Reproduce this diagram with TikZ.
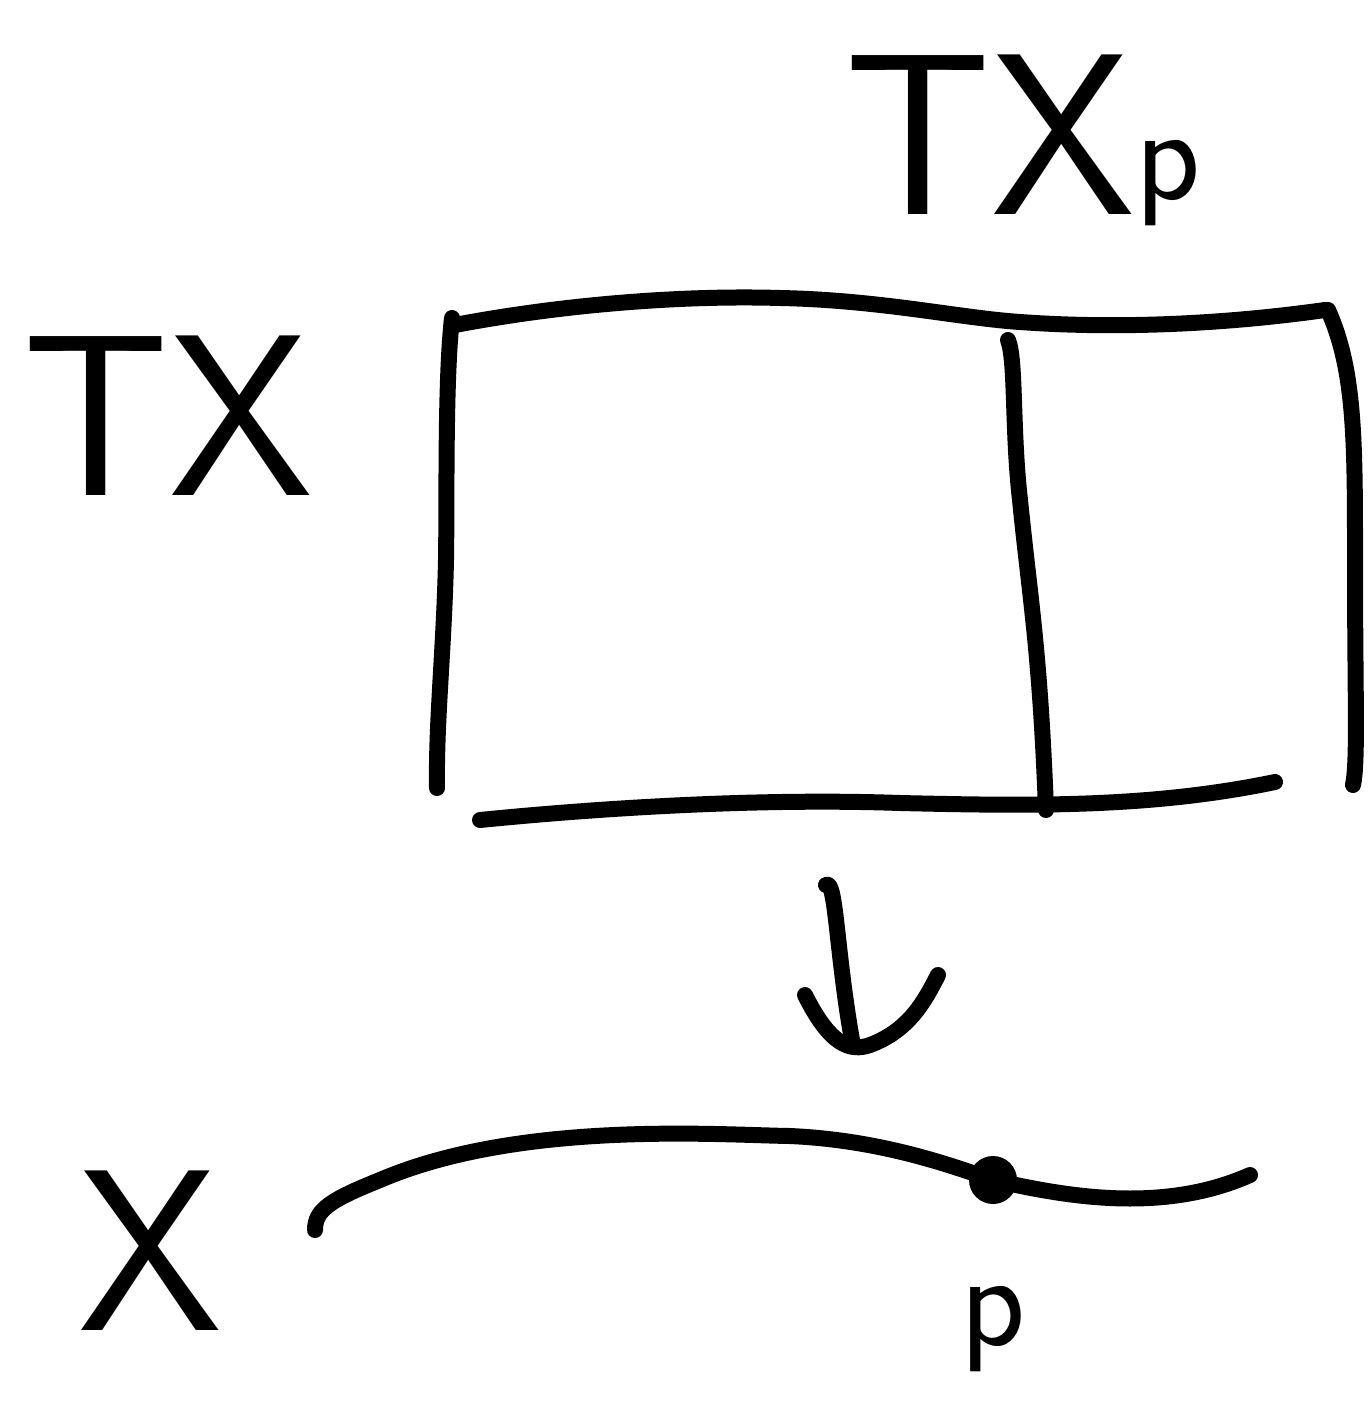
\documentclass[tikz,border=0pt]{standalone}
\usepackage{fontspec}
\begin{document}
\begin{tikzpicture}[x=1pt,y=-1pt,
  ink/.style={line width=16pt,line cap=round,line join=round,draw=black},
  lbl/.style={font=\sffamily\fontsize{230}{230}\selectfont,inner sep=0pt,anchor=base},
  sub/.style={font=\sffamily\fontsize{135}{135}\selectfont,inner sep=0pt,anchor=base west}]
\useasboundingbox (0,0) rectangle (1369,1404);
% labels
\node[lbl] (TX) at (168,495) {TX};
\node[lbl] (TXp) at (990,215) {TX};
\node[sub] (TXpsub) at (1135,200) {p};
\node[lbl] (X) at (150,1330) {X};
\node[sub,anchor=base] (p) at (993,1345) {p};
% rectangle (tangent space bundle)
\draw[ink] (455,325) .. controls (560,305) and (680,295) .. (780,298)
  .. controls (880,300) and (960,318) .. (1020,322)
  .. controls (1130,330) and (1240,322) .. (1325,310);
\draw[ink] (452,318) .. controls (445,380) and (447,500) .. (446,560)
  .. controls (444,650) and (436,720) .. (437,788);
\draw[ink] (480,820) .. controls (600,808) and (760,798) .. (900,803)
  .. controls (1030,806) and (1150,808) .. (1275,782);
\draw[ink] (1008,340) .. controls (1016,360) and (1012,430) .. (1020,500)
  .. controls (1030,600) and (1040,650) .. (1046,810);
\draw[ink] (1328,310) .. controls (1355,370) and (1355,440) .. (1355,560)
  .. controls (1355,700) and (1358,760) .. (1353,785);
% projection arrow
\coordinate (a1) at (826,885);
\coordinate (a2) at (852,1040);
\draw[ink] (a1) .. controls (836,878) and (836,950) .. (a2);
\draw[ink] (805,995) .. controls (830,1045) and (850,1052) .. (870,1045)
  .. controls (910,1030) and (925,1000) .. (938,975);
% base curve
\coordinate (b1) at (315,1230);
\coordinate (pt) at (993,1180);
\coordinate (b2) at (1250,1175);
\draw[ink] (b1) .. controls (315,1210) and (330,1200) .. (380,1180)
  .. controls (520,1120) and (720,1135) .. (790,1136)
  .. controls (880,1140) and (950,1165) .. (pt)
  .. controls (1060,1195) and (1160,1215) .. (b2);
\fill (pt) circle (24pt);
\end{tikzpicture}
\end{document}
